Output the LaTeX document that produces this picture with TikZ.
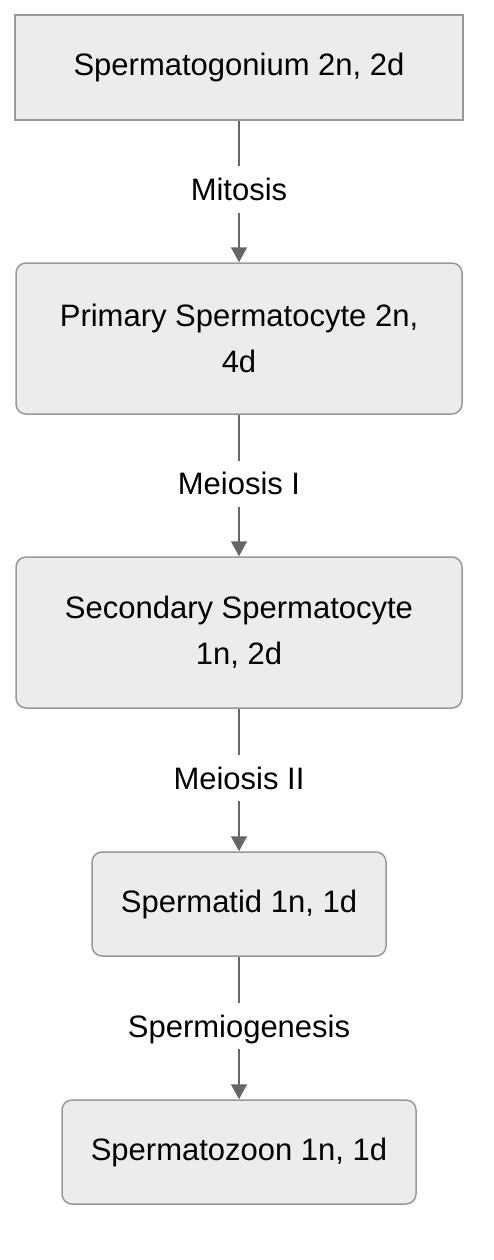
\documentclass[tikz,border=0pt]{standalone}
\usepackage{fontspec}
\setmainfont{Liberation Sans}
\usetikzlibrary{arrows.meta}
\definecolor{cellfill}{HTML}{ECECEC}
\definecolor{celledge}{HTML}{999999}
\definecolor{arrowgray}{HTML}{666666}

\begin{document}
\begin{tikzpicture}[x=1pt, y=-1pt,
      cell/.style={rectangle, draw=celledge, fill=cellfill, line width=1.5pt, rounded corners=10pt, font=\fontsize{31}{46}\selectfont, align=center, inner sep=0pt},
      lbl/.style={fill=white, font=\fontsize{31}{46}\selectfont, inner sep=0pt, minimum height=46pt, text=black, text depth=0pt, yshift=2pt},
      arr/.style={-{Triangle[length=15pt, width=16pt]}, line width=1.5pt, arrowgray}
    ]
      \useasboundingbox (0,0) rectangle (494,1260);

      \node[cell, sharp corners, minimum width=448pt, minimum height=105pt] (G) at (239, 67.5) {Spermatogonium 2n, 2d};
      \node[cell, minimum width=446pt, minimum height=151pt] (P) at (239, 338.5) {Primary Spermatocyte 2n,\\4d};
      \node[cell, minimum width=446pt, minimum height=151pt] (S) at (239, 632.5) {Secondary Spermatocyte\\1n, 2d};
      \node[cell, minimum width=294pt, minimum height=104pt] (T) at (239, 904) {Spermatid 1n, 1d};
      \node[cell, minimum width=354pt, minimum height=104pt] (Z) at (239, 1152) {Spermatozoon 1n, 1d};

      \draw[arr] (G) -- node[lbl] {Mitosis} (P);
      \draw[arr] (P) -- node[lbl] {Meiosis I} (S);
      \draw[arr] (S) -- node[lbl] {Meiosis II} (T);
      \draw[arr] (T) -- node[lbl] {Spermiogenesis} (Z);
    \end{tikzpicture}
\end{document}
